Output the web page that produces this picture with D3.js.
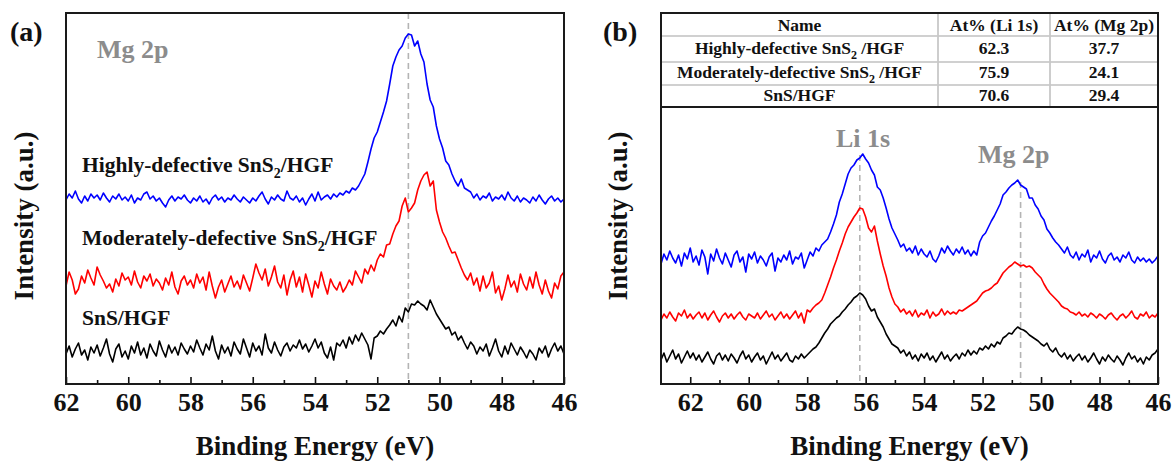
<!DOCTYPE html>
<html>
<head>
<meta charset="utf-8">
<script src="https://cdn.jsdelivr.net/npm/d3@7"></script>
<style>
  body { margin: 0; background: #fff; }
  svg { display: block; }
  text { font-family: "Liberation Serif", "Times New Roman", serif; font-weight: bold; }
</style>
</head>
<body>
<svg id="chart" width="1175" height="464"></svg>
<script>
// ---- XPS spectra: intensity (a.u., stacked) sampled every 0.1 eV ----
const energyStep = 0.1;

// (a) Mg 2p region, 62.0 -> 46.0 eV
const startA = 62.0;
const mgHighA = [
  184,190,186,193,185,181,188,183,190,186,
  189,184,191,186,182,188,185,190,184,187,
  183,189,181,186,184,190,192,185,188,183,
  186,181,177,184,188,183,187,185,189,184,
  181,186,183,188,182,185,180,186,189,184,
  187,182,186,184,189,185,182,187,184,181,
  186,183,188,192,185,180,187,184,189,185,
  183,193,186,184,188,182,186,179,185,190,
  183,192,184,187,189,185,190,187,191,189,
  193,191,196,194,198,204,210,222,235,246,
  252,262,272,283,300,318,327,334,338,346,
  350,349,338,343,330,322,300,284,277,258,
  245,236,223,219,210,203,198,205,196,194,
  192,186,190,184,188,186,191,183,187,185,
  189,184,192,186,183,188,182,186,184,181,
  187,183,189,184,180,185,188,183,186,182,
  185
];
const mgModA = [
  98,112,104,90,95,108,101,114,106,99,
  117,109,103,96,100,92,105,98,111,104,
  107,99,113,102,96,108,103,110,98,105,
  101,94,106,99,112,97,90,103,108,99,
  104,96,110,101,107,94,112,98,86,97,
  104,92,100,108,97,103,95,109,101,93,
  106,120,111,104,115,98,107,118,102,96,
  109,89,104,113,97,107,92,110,99,87,
  103,96,112,100,90,105,98,94,102,92,
  97,104,99,113,107,101,115,110,119,113,
  124,130,127,139,140,150,158,163,178,186,
  172,176,181,194,203,209,212,198,203,174,
  162,152,146,138,131,132,124,116,109,104,
  111,99,106,93,108,96,101,112,91,98,
  84,95,109,97,103,92,110,100,94,107,
  96,112,99,90,104,93,86,101,95,108,
  112
];
const mgSnsA = [
  30,38,27,35,41,29,34,24,37,31,
  39,28,36,45,30,22,35,40,27,33,
  25,38,31,42,29,36,26,40,33,28,
  43,34,27,39,31,37,29,41,35,30,
  38,32,44,36,29,40,34,48,33,25,
  39,31,37,28,42,35,30,45,36,27,
  41,33,38,29,50,36,31,42,34,28,
  37,41,33,39,36,44,35,40,32,38,
  45,36,42,31,26,37,24,41,38,44,
  36,47,40,49,43,51,45,39,25,46,
  48,53,50,55,59,64,58,68,62,76,
  72,80,79,83,80,78,74,84,77,70,
  65,60,55,57,49,52,44,48,41,35,
  42,38,30,37,33,40,28,36,45,33,
  27,38,30,41,35,29,37,32,26,34,
  30,24,36,31,38,27,35,41,33,38,
  30
];

// (b) Li 1s + Mg 2p region, 63.0 -> 46.0 eV
const startB = 63.0;
const liMgHighB = [
  120,130,124,133,126,121,129,118,131,125,
  136,122,128,119,134,127,110,130,123,135,
  126,120,131,124,117,129,133,122,127,112,
  130,125,132,121,128,124,118,127,131,113,
  126,122,129,124,133,120,127,125,131,116,
  124,132,128,136,133,139,142,145,152,160,
  169,182,190,200,210,216,219,224,226,230,
  225,221,214,209,197,194,186,176,165,156,
  150,144,137,140,133,136,131,138,129,135,
  130,127,133,125,122,128,136,131,138,133,
  129,135,131,137,130,134,128,133,129,142,
  148,151,157,163,168,174,180,189,192,196,
  199,201,204,199,197,195,186,186,179,175,
  168,164,155,151,146,142,139,135,131,137,
  129,126,132,124,130,127,134,122,129,126,
  133,125,121,128,131,124,127,122,129,126,
  132,124,121,127,123,126,122,125,121,124,
  128
];
const liMgModB = [
  64,70,66,72,67,63,71,68,74,66,
  70,65,69,72,66,71,64,69,73,67,
  62,68,71,66,70,65,69,72,67,64,
  70,68,66,71,65,69,73,67,70,64,
  68,72,66,70,65,69,73,66,71,61,
  74,72,76,79,81,84,91,99,107,116,
  124,133,141,150,157,162,167,171,176,175,
  167,156,152,158,143,130,118,108,96,87,
  80,77,72,75,70,73,68,74,67,71,
  69,74,66,72,68,70,75,69,73,70,
  72,70,74,73,75,77,79,81,83,87,
  91,93,94,96,99,101,106,111,114,117,
  119,122,120,118,119,117,118,116,112,109,
  106,100,95,91,88,85,82,78,76,75,
  72,71,69,72,68,70,67,71,69,66,
  70,68,65,69,71,67,64,68,70,66,
  69,73,67,65,70,68,72,66,69,67,
  71
];
const liMgSnsB = [
  24,31,22,28,34,25,30,21,27,33,
  26,31,24,29,22,27,32,25,20,28,
  31,24,29,23,30,26,21,28,33,25,
  29,22,27,31,24,28,20,26,32,25,
  29,23,27,31,24,22,28,25,30,26,
  29,32,35,37,41,46,51,55,60,63,
  66,68,72,75,79,82,86,88,91,89,
  85,78,73,75,67,62,57,50,45,40,
  38,36,31,34,28,32,25,29,23,30,
  26,31,24,28,22,27,32,25,29,23,
  27,30,25,31,28,34,29,33,30,36,
  34,38,35,40,37,42,40,46,48,51,
  50,54,57,55,54,52,49,47,45,43,
  40,38,41,35,32,36,30,27,31,25,
  29,23,27,30,24,28,22,26,31,25,
  20,27,23,29,25,22,28,24,19,26,
  31,25,28,22,26,20,27,24,29,31,
  35
];

// peak reference lines: energy (eV) and the intensity where each line starts
const refEnergyA = [51.0];
const refEnergyB = [56.2, 50.7];
const refTopB = [229, 202];

// axis ticks
const majorTicks = [62, 60, 58, 56, 54, 52, 50, 48, 46];
const minorTicks = [63, 61, 59, 57, 55, 53, 51, 49, 47];

// sample names and colours
const sampleNames = ["Highly-defective SnS2/HGF", "Moderately-defective SnS2/HGF", "SnS/HGF"];
const sampleColors = ["#0000ff", "#ff0000", "#000000"];

// atomic percentage table
const tableHeader = ["Name", "At% (Li 1s)", "At% (Mg 2p)"];
const tableNames = ["Highly-defective SnS2 /HGF", "Moderately-defective SnS2 /HGF", "SnS/HGF"];
const atLi = ["62.3", "75.9", "70.6"];
const atMg = ["37.7", "24.1", "29.4"];

// ---- drawing ----
const svg = d3.select("#chart");
svg.append("rect").attr("width", 1175).attr("height", 464).attr("fill", "#fff");

const frameTop = 13, frameBottom = 384;
const y = d3.scaleLinear().domain([0, 371]).range([frameBottom, frameTop]);
const grey = "#8c8c8c";

// text that may contain "SnS2": the 2 is set as a subscript
function richText(sel, str, subSize) {
  const parts = str.split("SnS2");
  parts.forEach((p, i) => {
    if (i > 0) {
      sel.append("tspan").text("SnS");
      sel.append("tspan").attr("dy", subSize * 0.45).attr("font-size", subSize).text("2");
      sel.append("tspan").attr("dy", -subSize * 0.45).text(p);
    } else if (p.length) {
      sel.append("tspan").text(p);
    }
  });
}

function drawPanel(opt) {
  const g = svg.append("g");
  const x = d3.scaleLinear().domain(opt.domain).range([opt.left, opt.right]);

  // reference dashed lines (drawn under the spectra)
  opt.refs.forEach(r => {
    g.append("line")
      .attr("x1", x(r.e)).attr("x2", x(r.e))
      .attr("y1", y(r.top)).attr("y2", y(0))
      .attr("stroke", "#b4b4b4").attr("stroke-width", 1.6)
      .attr("stroke-dasharray", "6,4");
  });

  // spectra
  opt.series.forEach((s, k) => {
    const line = d3.line()
      .x((d, i) => x(opt.start - i * energyStep))
      .y(d => y(d));
    g.append("path").datum(s)
      .attr("fill", "none")
      .attr("stroke", sampleColors[k])
      .attr("stroke-width", 1.6)
      .attr("stroke-linejoin", "round")
      .attr("d", line);
  });

  // ticks (inside, pointing up) and labels
  const major = d3.axisBottom(x).tickValues(majorTicks.filter(t => t >= opt.domain[1] && t <= opt.domain[0]))
    .tickSize(-7).tickPadding(9).tickFormat(d3.format("d"));
  const minor = d3.axisBottom(x).tickValues(minorTicks.filter(t => t > opt.domain[1] && t < opt.domain[0]))
    .tickSize(-4).tickFormat("");
  const gMaj = g.append("g").attr("transform", `translate(0,${frameBottom})`).call(major);
  const gMin = g.append("g").attr("transform", `translate(0,${frameBottom})`).call(minor);
  [gMaj, gMin].forEach(a => {
    a.select(".domain").remove();
    a.selectAll(".tick line").attr("stroke", "#111").attr("stroke-width", 1.6);
  });
  gMaj.selectAll(".tick text")
    .attr("font-size", 26).attr("fill", "#111")
    .attr("font-family", "Liberation Serif, Times New Roman, serif").attr("font-weight", "bold");

  // frame
  g.append("rect")
    .attr("x", opt.left).attr("y", frameTop)
    .attr("width", opt.right - opt.left).attr("height", frameBottom - frameTop)
    .attr("fill", "none").attr("stroke", "#1a1a1a").attr("stroke-width", 2);

  // axis titles
  g.append("text")
    .attr("x", (opt.left + opt.right) / 2).attr("y", 455)
    .attr("text-anchor", "middle").attr("font-size", 27).attr("fill", "#111")
    .text("Binding Energy (eV)");
  g.append("text")
    .attr("transform", `translate(${opt.yTitleX},216) rotate(-90)`)
    .attr("text-anchor", "middle").attr("font-size", 27).attr("fill", "#111")
    .text("Intensity (a.u.)");

  // panel letter
  g.append("text")
    .attr("x", opt.letterX).attr("y", 41)
    .attr("font-size", 28).attr("fill", "#111")
    .text(opt.letter);
  return { g, x };
}

// panel (a)
const pa = drawPanel({
  left: 66, right: 564, domain: [62, 46], start: startA,
  series: [mgHighA, mgModA, mgSnsA],
  refs: refEnergyA.map(e => ({ e, top: 371 })),
  yTitleX: 33, letter: "(a)", letterX: 10
});
pa.g.append("text").attr("x", 97).attr("y", 58)
  .attr("font-size", 26).attr("fill", grey).text("Mg 2p");
const labelBaselines = [172, 245, 325];
sampleNames.forEach((n, i) => {
  const t = pa.g.append("text").attr("x", 82).attr("y", labelBaselines[i])
    .attr("font-size", 21.5).attr("fill", "#111");
  richText(t, n, 14);
});

// panel (b)
const pb = drawPanel({
  left: 661, right: 1158, domain: [63, 46], start: startB,
  series: [liMgHighB, liMgModB, liMgSnsB],
  refs: refEnergyB.map((e, i) => ({ e, top: refTopB[i] })),
  yTitleX: 627, letter: "(b)", letterX: 603
});
pb.g.append("text").attr("x", 836).attr("y", 147)
  .attr("font-size", 26).attr("fill", grey).text("Li 1s");
pb.g.append("text").attr("x", 978).attr("y", 163)
  .attr("font-size", 26).attr("fill", grey).text("Mg 2p");

// table inside panel (b)
const tbl = pb.g.append("g");
const colEdges = [661, 938, 1050, 1158];
const rowEdges = [13, 36, 62, 85, 107];
const rowBase = [31, 54, 78, 101];
tbl.append("rect").attr("x", 661).attr("y", 13).attr("width", 497).attr("height", 94)
  .attr("fill", "#fff");
[1, 2, 3].forEach(i => {
  tbl.append("line").attr("x1", 662).attr("x2", 1157)
    .attr("y1", rowEdges[i]).attr("y2", rowEdges[i])
    .attr("stroke", "#d0d0d0").attr("stroke-width", 1.8);
});
[1, 2].forEach(i => {
  tbl.append("line").attr("x1", colEdges[i]).attr("x2", colEdges[i])
    .attr("y1", 14).attr("y2", 106)
    .attr("stroke", "#c8c8c8").attr("stroke-width", 1.8);
});
tbl.append("rect").attr("x", 661).attr("y", 13).attr("width", 497).attr("height", 94)
  .attr("fill", "none").attr("stroke", "#1a1a1a").attr("stroke-width", 2);
const colCenter = i => (colEdges[i] + colEdges[i + 1]) / 2;
tableHeader.forEach((h, c) => {
  tbl.append("text").attr("x", colCenter(c)).attr("y", rowBase[0])
    .attr("text-anchor", "middle").attr("font-size", 17.5).attr("fill", "#111").text(h);
});
tableNames.forEach((n, r) => {
  const t = tbl.append("text").attr("x", colCenter(0)).attr("y", rowBase[r + 1])
    .attr("text-anchor", "middle").attr("font-size", 17.5).attr("fill", "#111");
  richText(t, n, 12);
  tbl.append("text").attr("x", colCenter(1)).attr("y", rowBase[r + 1])
    .attr("text-anchor", "middle").attr("font-size", 17.5).attr("fill", "#111").text(atLi[r]);
  tbl.append("text").attr("x", colCenter(2)).attr("y", rowBase[r + 1])
    .attr("text-anchor", "middle").attr("font-size", 17.5).attr("fill", "#111").text(atMg[r]);
});
</script>
</body>
</html>
